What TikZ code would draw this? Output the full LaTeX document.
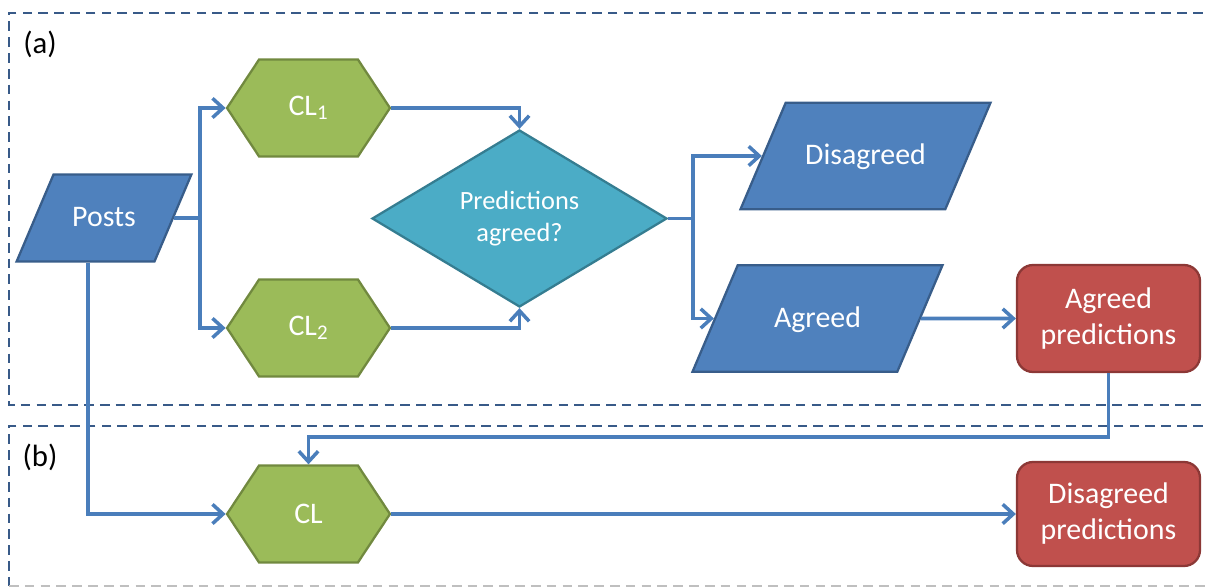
\documentclass[tikz,border=0pt]{standalone}
\usepackage{fontspec}
\setmainfont{Carlito}
\usepackage{xcolor}
\usetikzlibrary{calc,arrows.meta,shapes.geometric,shapes.symbols}

\definecolor{dataFill}{HTML}{4F81BD}
\definecolor{dataLine}{HTML}{385D8A}
\definecolor{clFill}{HTML}{9BBB59}
\definecolor{clLine}{HTML}{71893F}
\definecolor{askFill}{HTML}{4BACC6}
\definecolor{askLine}{HTML}{357D91}
\definecolor{outFill}{HTML}{C0504D}
\definecolor{outLine}{HTML}{8C3836}
\definecolor{wire}{HTML}{4A7EBB}
\definecolor{frameLine}{HTML}{385A88}

\tikzset{
    databox/.style={trapezium, trapezium left angle=67, trapezium right angle=113,
        fill=dataFill, draw=dataLine, line width=1.3pt, align=center,
        text=white, font=\fontsize{17}{20}\selectfont, inner sep=0pt},
    smalldata/.style={text width=2.02cm, text height=29.7pt, text depth=19.7pt},
    bigdata/.style={text width=3.19cm, text height=35.4pt, text depth=25.3pt},
    clbox/.style={signal, signal to=east and west, signal pointer angle=113,
        minimum width=3.26cm, minimum height=1.94cm, inner sep=0pt,
        fill=clFill, draw=clLine, line width=1.3pt,
        text=white, font=\fontsize{17}{20}\selectfont},
    askbox/.style={diamond, minimum width=5.9cm, minimum height=3.54cm, inner sep=0pt,
        fill=askFill, draw=askLine, line width=1.3pt, align=center,
        text=white, font=\fontsize{15}{18.5}\selectfont},
    outbox/.style={rectangle, rounded corners=0.32cm, minimum width=3.66cm,
        fill=outFill, draw=outLine, line width=1.3pt, align=center,
        text=white, font=\fontsize{17}{20.5}\selectfont},
    link/.style={draw=wire, line width=2pt, -{Straight Barb[length=6pt,width=11pt]}},
    frame/.style={draw=frameLine, line width=1.5pt, dash pattern=on 5.5pt off 3.5pt},
}

\begin{document}
\begin{tikzpicture}
    \useasboundingbox (0,0) rectangle (24.12,11.74);
    \clip (0,0) rectangle (24.12,11.74);
% Frames
    \draw[frame] (25,11.48) -- (0.18,11.48) -- (0.18,3.64) -- (25,3.64);
    \draw[frame] (25,3.22) -- (0.18,3.22) -- (0.18,0.02);
    \draw[draw=black!25, line width=1pt, dash pattern=on 5.5pt off 3.5pt] (0.18,0.02) -- (25,0.02);
    \node[font=\fontsize{17.5}{20}\selectfont] (tagA) at (0.8,10.85) {(a)};
    \node[font=\fontsize{17.5}{20}\selectfont] (tagB) at (0.8,2.6) {(b)};
% (a) Two classifiers
    \node[databox, smalldata] (posts) at (2.08,7.38) {Posts};
    \node[clbox] (cl1) at (6.17,9.58) {CL\textsubscript{1}};
    \node[clbox] (cl2) at (6.17,5.18) {CL\textsubscript{2}};
    \node[askbox] (ask) at (10.39,7.37) {Predictions\\agreed?};
    \node[databox, bigdata] (dis) at (17.31,8.62) {Disagreed};
    \node[databox, bigdata] (agr) at (16.35,5.37) {Agreed};
    \node[outbox, minimum height=2.14cm] (agp) at (22.17,5.37) {Agreed\\predictions};
% (b) One classifier
    \node[clbox] (cl) at (6.17,1.46) {CL};
    \node[outbox, minimum height=2.08cm] (dip) at (22.17,1.46) {Disagreed\\predictions};
% Connectors
    \coordinate (split) at (4.0,7.38);
    \coordinate (fork) at (13.86,7.37);
    \coordinate (back) at (22.17,3.0);
    \draw[link] (posts.east) -- (split) |- (cl1.west);
    \draw[link] (split) |- (cl2.west);
    \draw[link] (cl1.east) -| (ask.north);
    \draw[link] (cl2.east) -| (ask.south);
    \draw[link] (ask.east) -- (fork) |- (dis.west);
    \draw[link] (fork) |- (agr.west);
    \draw[link] (agr.east) -- (agp.west);
    \draw[link] (agp.south) -- (back) -| (cl.north);
    \draw[link] ([xshift=-0.32cm]posts.south) |- (cl.west);
    \draw[link] (cl.east) -- (dip.west);
\end{tikzpicture}
\end{document}
